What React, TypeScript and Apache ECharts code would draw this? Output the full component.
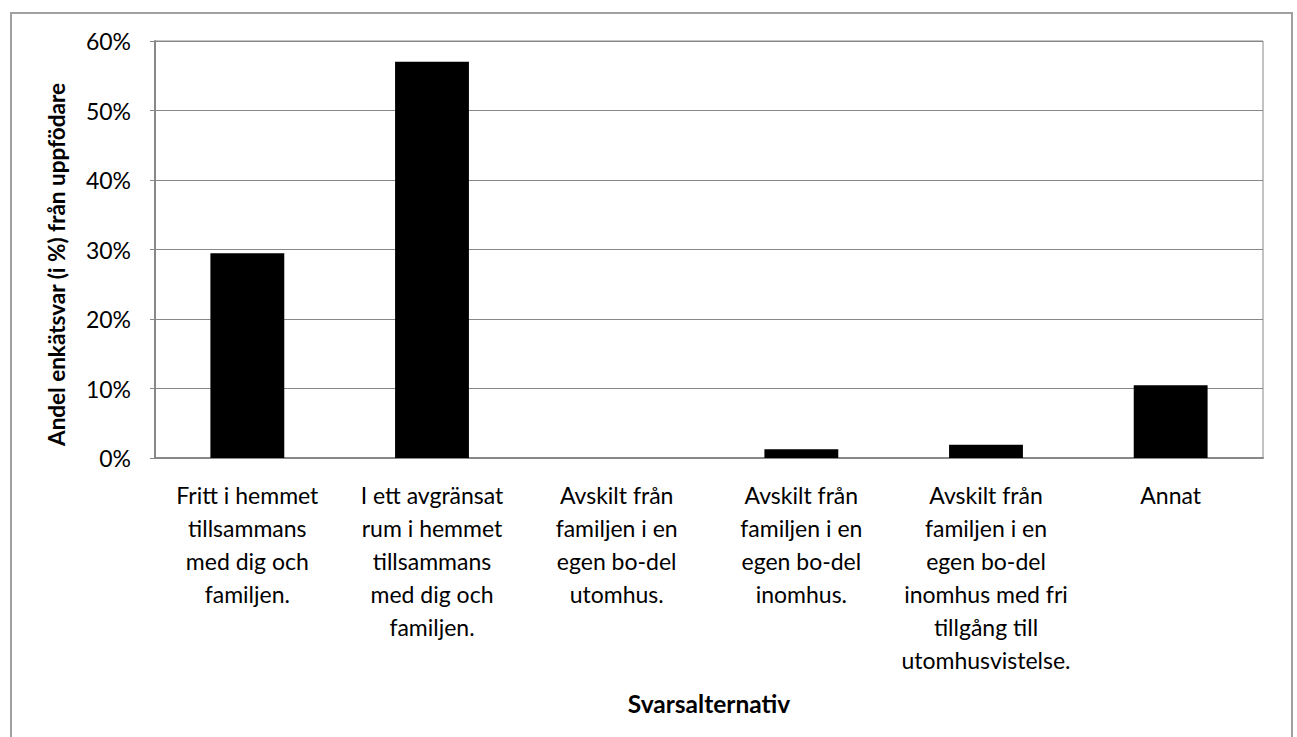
import React, { useEffect, useRef } from "react";
import * as echarts from "echarts";

const categories = [
  "Fritt i hemmet\ntillsammans\nmed dig och\nfamiljen.",
  "I ett avgränsat\nrum i hemmet\ntillsammans\nmed dig och\nfamiljen.",
  "Avskilt från\nfamiljen i en\negen bo-del\nutomhus.",
  "Avskilt från\nfamiljen i en\negen bo-del\ninomhus.",
  "Avskilt från\nfamiljen i en\negen bo-del\ninomhus med fri\ntillgång till\nutomhusvistelse.",
  "Annat",
];
const values = [29.45, 57.0, 0, 1.25, 1.9, 10.45];
const yTicks = { min: 0, max: 60, interval: 10 };
const yAxisTitle = "Andel enkätsvar (i %) från uppfödare";
const xAxisTitle = "Svarsalternativ";

const FONT = "Lato, 'Open Sans', sans-serif";

export default function App() {
  const ref = useRef<HTMLDivElement>(null);
  useEffect(() => {
    if (!ref.current) return;
    const chart = echarts.init(ref.current, null, { renderer: "svg" });
    chart.setOption({
      animation: false,
      backgroundColor: "#ffffff",
      textStyle: { fontFamily: FONT },
      graphic: [
        {
          type: "rect",
          shape: { x: 11, y: 13, width: 1281, height: 740 },
          style: { fill: "none", stroke: "#a0a0a0", lineWidth: 2 },
          silent: true,
        },
      ],
      grid: {
        left: 155,
        right: 34,
        top: 41,
        bottom: 279,
        show: true,
        borderColor: "#888888",
        borderWidth: 1,
      },
      xAxis: {
        type: "category",
        data: categories,
        name: xAxisTitle,
        nameLocation: "middle",
        nameGap: 233,
        nameTextStyle: { fontFamily: FONT, fontSize: 24.5, fontWeight: "bold", color: "#000" },
        axisLine: { lineStyle: { color: "#888888", width: 2 } },
        axisTick: { show: false },
        axisLabel: {
          interval: 0,
          fontFamily: FONT,
          fontSize: 23,
          lineHeight: 33,
          color: "#000",
          margin: 20,
          verticalAlign: "top",
        },
      },
      yAxis: {
        type: "value",
        min: yTicks.min,
        max: yTicks.max,
        interval: yTicks.interval,
        name: yAxisTitle,
        nameLocation: "middle",
        nameGap: 87,
        nameTextStyle: {
          fontFamily: FONT,
          fontSize: 22.5,
          fontWeight: "bold",
          color: "#000",
          padding: [0, 30, 0, 0],
        },
        axisLine: { show: true, lineStyle: { color: "#888888", width: 2 } },
        axisTick: { show: true, length: 5, lineStyle: { color: "#888888" } },
        splitLine: { lineStyle: { color: "#888888", width: 1 } },
        axisLabel: {
          formatter: "{value}%",
          fontFamily: FONT,
          fontSize: 23,
          color: "#000",
          margin: 24,
        },
      },
      series: [
        {
          type: "bar",
          data: values,
          barCategoryGap: "60%",
          itemStyle: { color: "#000000" },
        },
      ],
    });
    return () => chart.dispose();
  }, []);
  return (
    <div
      ref={ref}
      style={{ position: "absolute", left: 0, top: 0, width: 1297, height: 737 }}
    />
  );
}
